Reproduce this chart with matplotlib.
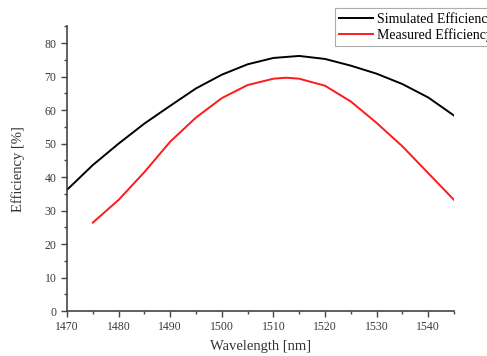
import matplotlib
matplotlib.use("Agg")
import matplotlib.pyplot as plt
from matplotlib.ticker import MultipleLocator

# values
sim_wl = [1470, 1475, 1480, 1485, 1490, 1495, 1500, 1505, 1510, 1515,
          1520, 1525, 1530, 1535, 1540, 1545]
sim_eff = [36.2, 43.6, 50.0, 56.0, 61.3, 66.5, 70.6, 73.7, 75.6, 76.2,
           75.3, 73.3, 70.9, 67.8, 63.8, 58.4]
meas_wl = [1475, 1480, 1485, 1490, 1495, 1500, 1505, 1510, 1512.5, 1515,
           1520, 1525, 1530, 1535, 1540, 1545]
meas_eff = [26.4, 33.2, 41.5, 50.6, 57.8, 63.6, 67.5, 69.4, 69.7, 69.4,
            67.3, 62.6, 56.2, 49.2, 41.2, 33.2]

plt.rcParams["font.family"] = ["Liberation Serif", "DejaVu Serif"]

fig = plt.figure(figsize=(4.87, 3.56), dpi=100)
ax = fig.add_axes([0.1376, 0.1264, 0.7946, 0.7992])

ax.plot(sim_wl, sim_eff, color="black", lw=1.4, label="Simulated Efficiency")
ax.plot(meas_wl, meas_eff, color="#ff1a1a", lw=1.4, label="Measured Efficiency")

ax.set_xlim(1470, 1545)
ax.set_ylim(0, 85)
ax.xaxis.set_major_locator(MultipleLocator(10))
ax.xaxis.set_minor_locator(MultipleLocator(5))
ax.yaxis.set_major_locator(MultipleLocator(10))
ax.yaxis.set_minor_locator(MultipleLocator(5))
for s in ("top", "right"):
    ax.spines[s].set_visible(False)
for s in ("left", "bottom"):
    ax.spines[s].set_color("#444444")
    ax.spines[s].set_linewidth(1.2)
ax.tick_params(which="major", length=4, width=1, color="#444444",
               labelsize=8.5, labelcolor="#3a3a3a")
ax.tick_params(which="minor", length=2.5, width=1, color="#444444")

ax.set_xlabel("Wavelength [nm]", fontsize=10.5, color="#333333", labelpad=4.5)
ax.set_ylabel("Efficiency [%]", fontsize=10.5, color="#333333", labelpad=14)

leg = fig.legend(loc="upper left", bbox_to_anchor=(335 / 487, 1 - 8 / 356),
                 fontsize=10, frameon=True, fancybox=False, handlelength=2.4,
                 borderpad=0.3, labelspacing=0.15, handletextpad=0.3,
                 borderaxespad=0)
leg.get_frame().set_edgecolor("#999999")
leg.get_frame().set_linewidth(0.8)

fig.savefig("out.png", dpi=100)
